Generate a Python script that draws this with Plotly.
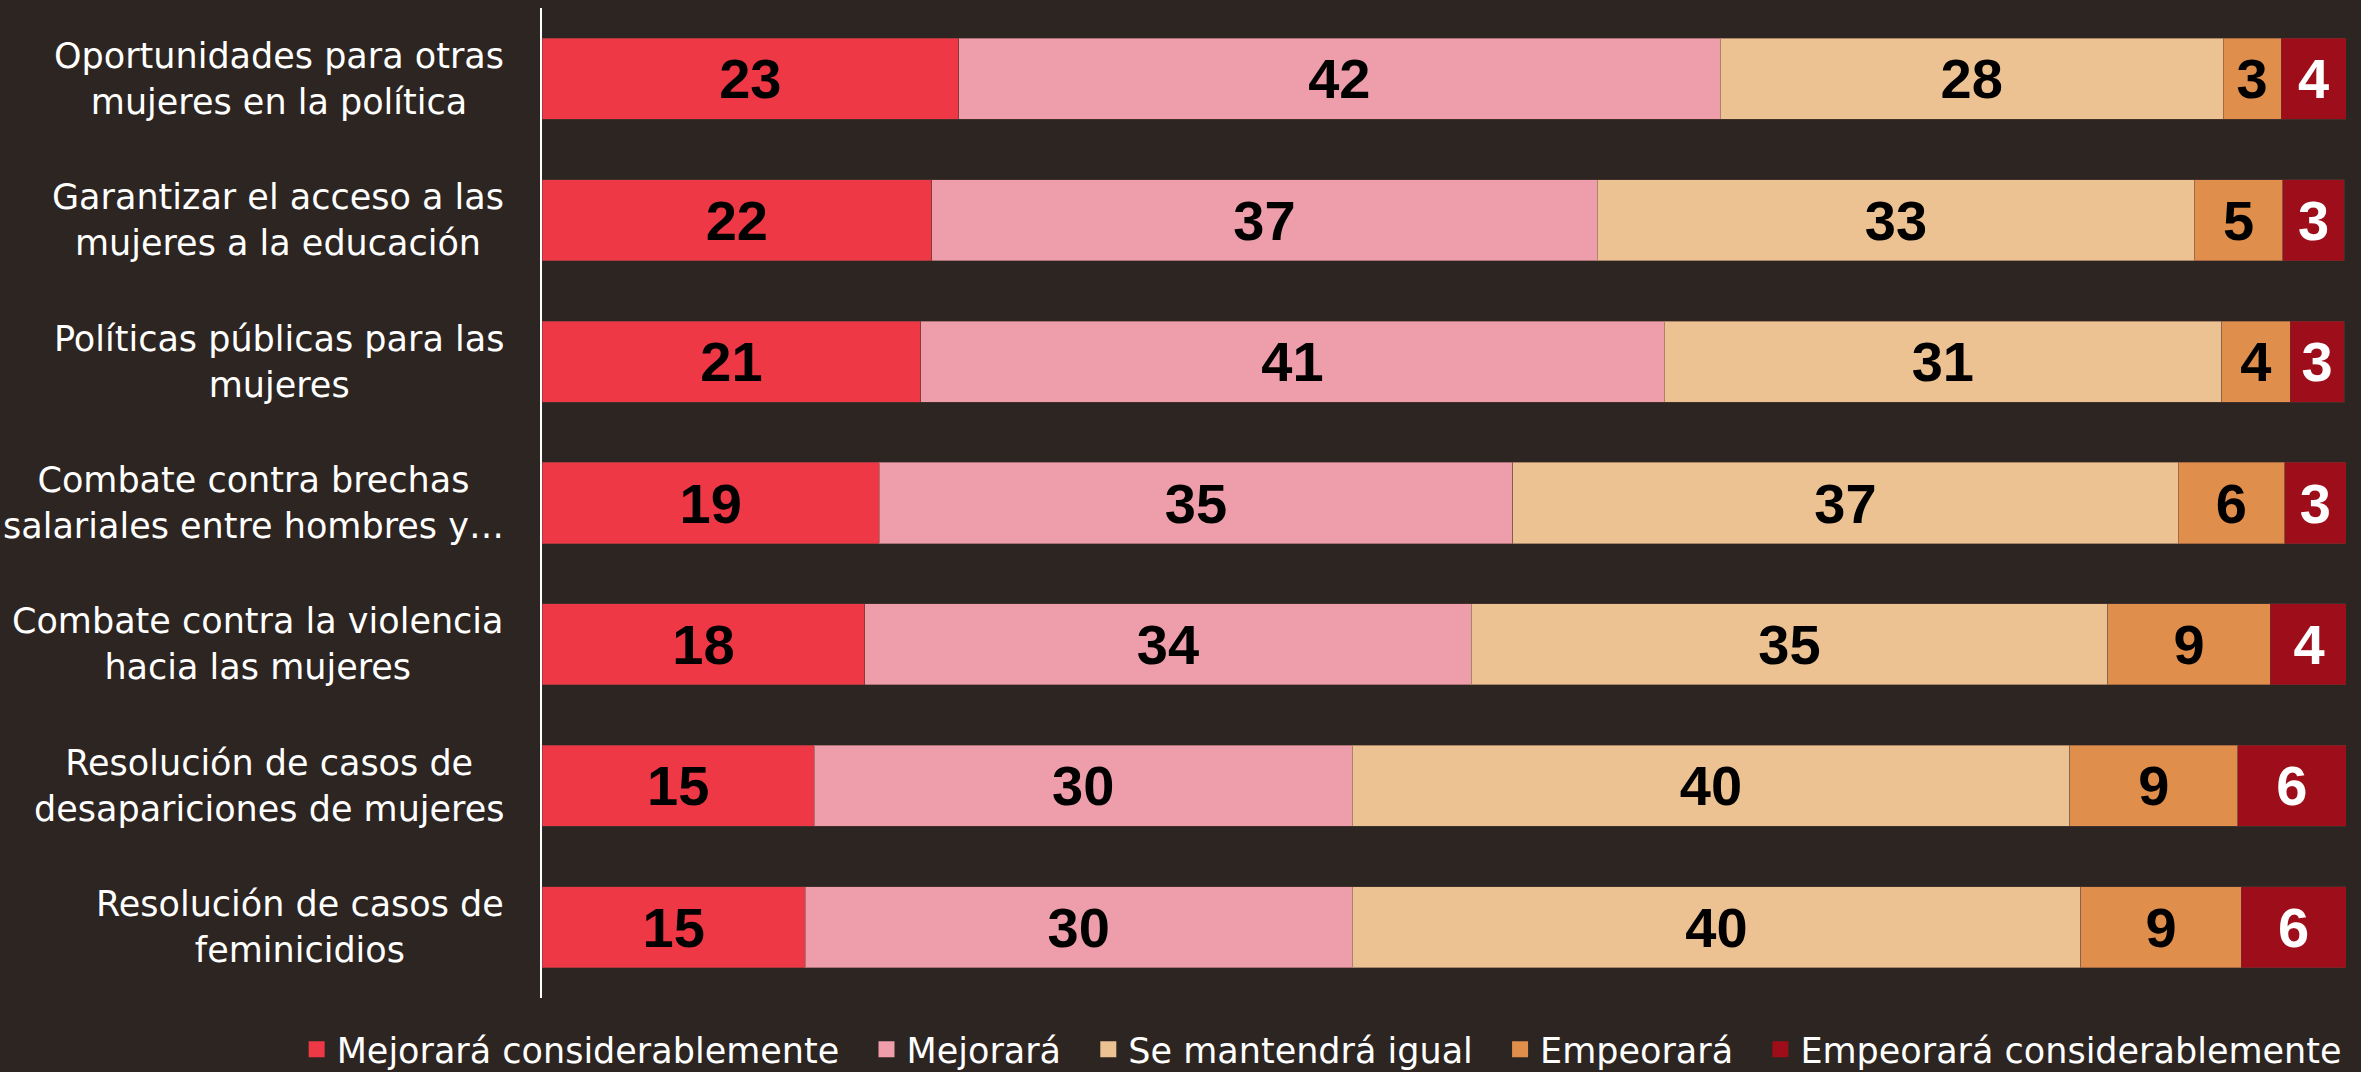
import plotly.graph_objects as go

categories = [
    "Oportunidades para otras<br>mujeres en la política",
    "Garantizar el acceso a las<br>mujeres a la educación",
    "Políticas públicas para las<br>mujeres",
    "Combate contra brechas<br>salariales entre hombres y…",
    "Combate contra la violencia<br>hacia las mujeres",
    "Resolución de casos de<br>desapariciones de mujeres",
    "Resolución de casos de<br>feminicidios",
]

series_names = [
    "Mejorará considerablemente",
    "Mejorará",
    "Se mantendrá igual",
    "Empeorará",
    "Empeorará considerablemente",
]

mejorara_mucho = [23.1, 21.6, 21.0, 18.7, 17.9, 15.1, 14.6]
mejorara = [42.2, 36.9, 41.2, 35.1, 33.6, 29.8, 30.3]
igual = [27.9, 33.1, 30.9, 36.9, 35.3, 39.8, 40.4]
empeorara = [3.2, 4.9, 3.8, 5.9, 9.0, 9.3, 8.9]
empeorara_mucho = [3.6, 3.4, 3.0, 3.4, 4.3, 6.0, 5.8]

series_values = [mejorara_mucho, mejorara, igual, empeorara, empeorara_mucho]
colors = ["#EE3846", "#EE9DAA", "#EDC293", "#E08E4B", "#9E0E1A"]
text_colors = ["#000000", "#000000", "#000000", "#000000", "#FFFFFF"]

BG = "#2D2521"
LABEL_FONT = "DejaVu Sans"
LABEL_SIZE = 35

fig = go.Figure()
for name, vals, col, tcol in zip(series_names, series_values, colors, text_colors):
    fig.add_trace(go.Bar(
        y=categories,
        x=vals,
        name=name,
        orientation="h",
        marker=dict(color=col, line=dict(color="rgba(90,60,50,0.45)", width=1)),
        texttemplate="%{x:.0f}",
        textposition="inside",
        insidetextanchor="middle",
        textangle=0,
        constraintext="none",
        textfont=dict(family="Liberation Sans", size=56, color=tcol, weight="bold"),
        hoverinfo="skip",
        showlegend=False,
    ))

# legend entries (square swatches); spacing padding after all but the last
for i, (name, col) in enumerate(zip(series_names, colors)):
    pad = "\u00a0\u00a0" if i < len(series_names) - 1 else ""
    fig.add_trace(go.Scatter(
        x=[None], y=[None], mode="markers", name=name + pad,
        marker=dict(symbol="square", size=21, color=col),
        showlegend=True, hoverinfo="skip",
    ))

for cat in categories:
    fig.add_annotation(
        x=0, xref="paper", xanchor="right", xshift=-36,
        y=cat, yref="y", yanchor="middle",
        text=cat, align="center", showarrow=False,
        font=dict(family=LABEL_FONT, size=LABEL_SIZE, color="#FFFFFF"),
    )

fig.update_layout(
    barmode="stack",
    bargap=0.427,
    width=2361,
    height=1072,
    paper_bgcolor=BG,
    plot_bgcolor=BG,
    margin=dict(l=542, r=15, t=8, b=74, autoexpand=False),
    xaxis=dict(range=[0, 100], visible=False, fixedrange=True),
    yaxis=dict(
        categoryorder="array", categoryarray=categories,
        range=[6.5, -0.5], showticklabels=False, ticks="",
        showgrid=False, zeroline=False,
        showline=True, linecolor="#FFFFFF", linewidth=1.5,
    ),
    legend=dict(
        orientation="h",
        x=-0.136, xanchor="left",
        y=-0.052, yanchor="middle",
        font=dict(family=LABEL_FONT, size=LABEL_SIZE, color="#FFFFFF"),
        bgcolor="rgba(0,0,0,0)",
        traceorder="normal",
        itemsizing="trace",
    ),
    showlegend=True,
)

fig.write_html(
    "out.html",
    config={"displayModeBar": False},
    post_script="document.body.style.margin='0';document.body.style.background='" + BG + "';",
)
